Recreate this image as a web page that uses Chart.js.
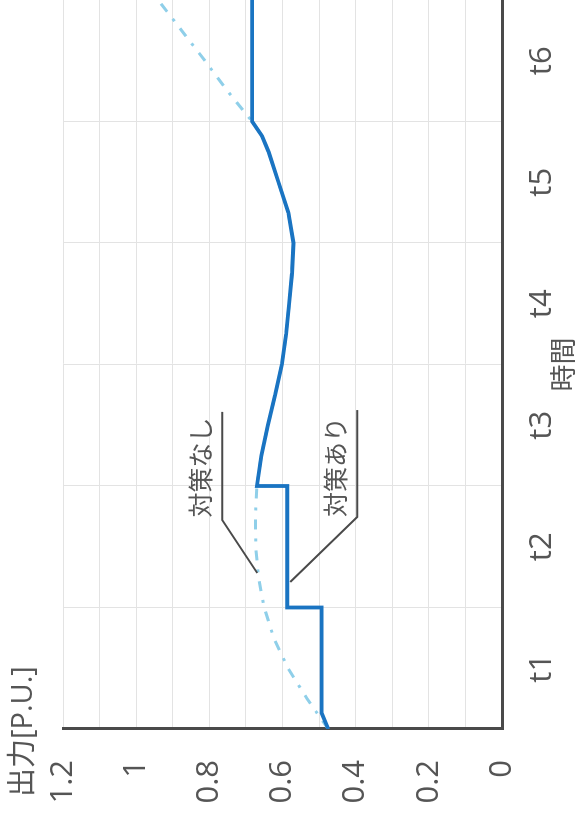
<!DOCTYPE html>
<html><head><meta charset="utf-8">
<script src="https://cdn.jsdelivr.net/npm/chart.js@4.4.0/dist/chart.umd.min.js"></script>
<style>
html,body{margin:0;padding:0;background:#fff;overflow:hidden;width:579px;height:816px}
#wrap{position:absolute;left:0;top:0;width:816px;height:579px;transform-origin:0 0;transform:translate(0,816px) rotate(-90deg);}
canvas{display:block}
</style></head><body>
<div id="wrap"><canvas id="c" width="816" height="579"></canvas></div>
<script>
// ---- data ----
const timeLabels = ['t1','t2','t3','t4','t5','t6'];
const valueTicks = [0, 0.2, 0.4, 0.6, 0.8, 1, 1.2];
const yTitle = '出力[P.U.]';
const xTitle = '時間';
const nameWith = '対策あり';
const nameWithout = '対策なし';

// 対策あり (with countermeasure)
const withT = [0, 0.13, 1, 1, 2, 2, 2.25, 2.5, 2.75, 3, 3.25, 3.5, 3.75, 4, 4.25, 4.5, 4.75, 4.88, 5, 5, 6];
const withV = [0.475, 0.493, 0.493, 0.587, 0.587, 0.670, 0.658, 0.640, 0.620, 0.602, 0.590, 0.582, 0.574, 0.570, 0.584, 0.611, 0.638, 0.656, 0.683, 0.683, 0.683];

// 対策なし (without countermeasure)
const withoutT = [0, 0.25, 0.5, 0.75, 1, 1.25, 1.5, 1.75, 2, 2.25, 2.5, 2.75, 3, 3.25, 3.5, 3.75, 4, 4.25, 4.5, 4.75, 4.88, 5, 5.25, 5.5, 5.75, 6];
const withoutV = [0.475, 0.533, 0.585, 0.624, 0.650, 0.666, 0.673, 0.674, 0.670, 0.658, 0.640, 0.620, 0.602, 0.590, 0.582, 0.574, 0.570, 0.584, 0.611, 0.638, 0.656, 0.683, 0.750, 0.812, 0.876, 0.940];

const toPts = (ts, vs) => ts.map((t, i) => ({x: t, y: vs[i]}));

const TXT = '#555555';
const FONT = '"Open Sans", "Noto Sans CJK JP", sans-serif';

const annotPlugin = {
  id: 'annot',
  afterDatasetsDraw(chart) {
    const {ctx, scales: {x, y}} = chart;
    const leaders = [
      {text: nameWithout, at: [1.74, 0.825], path: [[2.61, 0.765], [1.72, 0.765], [1.284, 0.669]]},
      {text: nameWith, at: [1.745, 0.454], path: [[2.625, 0.396], [1.745, 0.396], [1.21, 0.579]]}
    ];
    ctx.save();
    ctx.strokeStyle = '#4a4a4a';
    ctx.lineWidth = 2;
    ctx.lineJoin = 'miter';
    leaders.forEach(l => {
      ctx.beginPath();
      l.path.forEach((p, i) => {
        const px = x.getPixelForValue(p[0]), py = y.getPixelForValue(p[1]);
        if (i === 0) ctx.moveTo(px, py); else ctx.lineTo(px, py);
      });
      ctx.stroke();
      ctx.fillStyle = TXT;
      ctx.font = '25px "Noto Sans CJK JP", sans-serif';
      ctx.textAlign = 'left';
      ctx.textBaseline = 'middle';
      ctx.fillText(l.text, x.getPixelForValue(l.at[0]), y.getPixelForValue(l.at[1]));
    });
    ctx.fillStyle = TXT;
    ctx.font = '29px ' + FONT;
    ctx.textAlign = 'left';
    ctx.textBaseline = 'middle';
    ctx.fillText(yTitle, 19, 24);
    ctx.restore();
  }
};

new Chart(document.getElementById('c'), {
  type: 'line',
  data: {
    datasets: [
      {label: nameWith, data: toPts(withT, withV), borderColor: '#1a74c2', borderWidth: 3.8, pointRadius: 0, tension: 0, fill: false, borderJoinStyle: 'miter'},
      {label: nameWithout, data: toPts(withoutT, withoutV), borderColor: '#8fcfe9', borderWidth: 3, borderDash: [10, 9, 3, 9], pointRadius: 0, tension: 0, fill: false}
    ]
  },
  options: {
    responsive: false,
    animation: false,
    devicePixelRatio: 1,
    layout: {padding: {top: 63, left: 0, right: 0, bottom: 0}},
    plugins: {legend: {display: false}, tooltip: {enabled: false}},
    scales: {
      x: {
        type: 'linear', min: 0, max: 6,
        afterFit(s) { s.height = 77; },
        afterBuildTicks(s) { const t = []; for (let i = 0; i <= 12; i++) t.push({value: i / 2}); s.ticks = t; },
        ticks: {
          autoSkip: false, maxRotation: 0, padding: 0, color: TXT,
          font: {family: FONT, size: 31},
          callback(v) { const k = Math.round(v * 2); return (k % 2 === 1) ? timeLabels[(k - 1) / 2] : ''; }
        },
        grid: {
          drawTicks: true, tickLength: 22, lineWidth: 1, tickColor: 'rgba(0,0,0,0)',
          color(c) { return (Math.round(c.tick.value * 2) % 2 === 0) ? '#e3e3e3' : 'rgba(0,0,0,0)'; }
        },
        border: {display: true, color: '#4a4a4a', width: 3},
        title: {display: true, text: xTitle, color: TXT, font: {family: FONT, size: 27, lineHeight: 1}, padding: {top: 0, bottom: 0}}
      },
      y: {
        type: 'linear', min: 0, max: 1.2,
        afterFit(s) { s.width = 87; },
        afterBuildTicks(s) { const t = []; for (let i = 0; i <= 12; i++) t.push({value: i / 10}); s.ticks = t; },
        ticks: {
          autoSkip: false, padding: 31, color: TXT,
          font: {family: FONT, size: 31},
          callback(v) { const k = Math.round(v * 10); if (k % 2) return ''; const val = k / 10; return valueTicks.includes(val) ? String(val) : ''; }
        },
        grid: {drawTicks: false, tickLength: 0, lineWidth: 1, color: '#e3e3e3'},
        border: {display: true, color: '#4a4a4a', width: 3}
      }
    }
  },
  plugins: [annotPlugin]
});
</script>
</body></html>
